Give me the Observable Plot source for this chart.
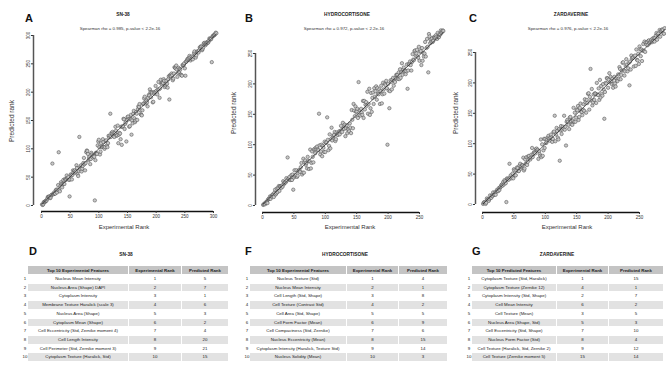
<!DOCTYPE html>
<html><head><meta charset="utf-8">
<script src="https://cdn.jsdelivr.net/npm/d3@7"></script>
<script src="https://cdn.jsdelivr.net/npm/@observablehq/plot@0.6"></script>
<style>
body{margin:0;background:#fff;font-family:"Liberation Sans",Arial,sans-serif;}
#root{position:relative;width:666px;height:366px;overflow:hidden;background:#fff;}
.abs{position:absolute;white-space:nowrap;line-height:1;}
.letter{font-size:11px;font-weight:bold;color:#111;}
.ttl{font-size:4.8px;font-weight:bold;color:#222;transform:translateX(-50%);}
.sub{font-size:4.4px;color:#333;transform:translateX(-50%);}
.xlab{font-size:6px;color:#333;transform:translateX(-50%);}
.ylab{font-size:6.5px;color:#333;transform:translate(-50%,-50%) rotate(-90deg);}
.cell{position:absolute;box-sizing:border-box;border-right:1px solid #fff;border-bottom:0.6px solid #fff;font-size:4.4px;color:#222;text-align:center;white-space:nowrap;overflow:hidden;}
.hcell{font-weight:bold;background:#c4c4c4;}
.rn{position:absolute;font-size:4.4px;color:#222;width:6px;text-align:center;}
svg{position:absolute;top:0;}
</style></head>
<body><div id="root"></div>
<script>
// Predicted ranks, listed in order of experimental rank (1, 2, 3, ...)
const predA = [
2,1,2,6,6,6,8,8,9,12, 15,15,16,15,13,14,18,19,74,20,
20,23,21,21,27,28,23,28,36,94, 27,25,34,41,38,32,38,45,38,38,
47,45,46,53,48,47,50,45,16,46, 55,53,46,54,62,58,61,62,58,60,
71,66,55,52,61,121,67,64,71,60, 65,70,75,84,73,62,75,94,97,96,
91,80,85,82,73,82,93,90,85,88, 87,86,9,80,93,92,91,106,113,116,
103,90,95,110,103,104,117,112,103,100, 103,114,115,106,103,110,123,120,123,162,
121,128,127,130,123,128,121,128,139,132, 123,124,141,110,125,128,127,117,139,107,
139,140,153,152,135,144,147,113,151,156, 157,152,139,140,153,160,125,150,145,162,
167,154,147,150,165,162,151,170,175,174, 179,168,161,160,159,168,179,180,189,192,
183,180,185,182,175,190,195,194,205,200, 191,200,199,182,183,200,197,200,211,202,
199,196,205,218,205,190,207,222,215,214, 217,216,223,220,209,212,215,220,215,208,
223,228,187,230,229,228,233,230,221,224, 233,244,243,242,247,240,227,234,243,236,
241,240,231,230,229,248,247,248,251,242, 229,254,254,257,259,258,260,264,261,256,
259,263,260,258,263,269,272,266,261,265, 271,272,271,270,274,279,278,281,280,274,
276,279,286,287,285,283,285,288,288,287, 288,291,295,294,293,294,253,298,299,300,
301,301,303,305,304];
const predB = [
1,2,3,2,5,4,7,4,10,11, 11,15,11,15,15,18,18,14,21,26,
18,20,28,22,29,32,24,32,31,29, 33,31,40,35,38,38,38,45,41,79,
44,44,47,42,42,50,42,51,26,46, 58,48,50,58,47,49,56,58,58,55,
63,70,51,54,77,54,71,74,67,70, 61,80,73,60,73,92,61,70,89,80,
71,92,93,86,95,92,97,92,91,151, 99,84,89,100,81,98,95,88,105,88,
103,104,145,108,91,98,117,94,109,128, 107,112,115,116,121,106,109,120,117,116,
119,122,117,122,131,124,121,136,127,126, 133,114,127,132,119,126,125,122,135,128,
119,157,141,127,167,156,147,163,154,155, 159,144,203,149,157,148,159,153,149,172,
144,172,158,166,170,164,187,151,167,192, 149,160,185,154,177,186,167,193,179,188,
196,174,193,184,183,191,167,188,197,168, 183,202,191,184,200,198,205,193,100,200,
189,160,188,206,203,191,207,210,197,205, 203,210,215,214,215,208,219,208,224,210,
219,234,215,224,227,221,222,216,221,232, 192,222,233,232,237,231,222,236,249,240,
239,254,255,246,250,256,245,243,261,238, 253,254,231,259,238,251,245,250,269,245,
259,274,261,219,282,278,267,273,269,275, 269,271,277,276,276,280,277,274,284,277,
277,282,281,288,284,286,288,287];
const predC = [
1,3,4,3,1,3,10,8,8,6, 9,15,11,11,15,14,20,16,16,20,
16,21,24,22,22,27,24,28,29,32, 33,31,37,33,40,38,35,4,43,42,
41,41,67,45,48,43,45,51,43,58, 56,48,48,56,61,60,55,55,64,67,
59,62,65,64,77,56,59,74,67,78, 65,70,79,80,75,74,77,82,93,78,
83,86,85,84,91,92,89,90,75,88, 83,80,107,78,99,80,89,108,93,108,
101,102,107,110,113,108,105,110,115,110, 103,108,119,120,146,104,115,126,121,110,
107,124,72,122,129,116,123,128,125,146, 123,128,97,136,139,136,131,124,143,144,
137,132,131,138,159,136,151,136,143,156, 155,162,139,144,159,166,153,152,147,156,
165,154,173,168,151,172,167,182,183,156, 177,223,171,190,163,168,181,172,183,182,
167,200,181,180,191,172,205,176,195,182, 179,198,189,141,185,200,199,208,207,192,
205,216,201,210,203,198,207,192,199,210, 199,194,207,204,203,214,207,226,223,206,
213,220,233,234,221,212,219,228,239,230, 219,224,233,196,235,222,245,240,241,242,
227,244,245,228,255,238,237,248,231,260, 255,244,255,236,253,264,253,268,251,266,
263,267,262,269,270,265,267,269,271,267, 273,269,274,268,274,278,282,271,280,281,
277,287,276,285,286,288,287,281,281,290];

const ticksA = [0,50,100,150,200,250,300];
const ticksBC = [0,50,100,150,200,250];

const panelTitles = ["SN-38","HYDROCORTISONE","ZARDAVERINE"];
const panelSubs = ["Spearman rho = 0.985, p-value < 2.2e-16","Spearman rho = 0.972, p-value < 2.2e-16","Spearman rho = 0.976, p-value < 2.2e-16"];
const panelLetters = ["A","B","C"];
const xLabel = "Experimental Rank";
const yLabel = "Predicted rank";

// Tables
const tableLetters = ["D","F","G"];
const tableTitles = ["SN-38","HYDROCORTISONE","ZARDAVERINE"];
const headD = ["Top 10 Experimental Features","Experimental Rank","Predicted Rank"];
const featD = ["Nucleus Mean Intensity","Nucleus Area (Shape) DAPI","Cytoplasm Intensity","Membrane Texture Haralick (scale 3)","Nucleus Area (Shape)","Cytoplasm Mean (Shape)","Cell Eccentricity (Std, Zernike moment 4)","Cell Length Intensity","Cell Perimeter (Std, Zernike moment 3)","Cytoplasm Texture (Haralick, Std)"];
const expD = [1,2,3,4,5,6,7,8,9,10];
const prdD = [5,7,1,6,3,2,4,20,21,15];
const headF = ["Top 10 Experimental Features","Experimental Rank","Predicted Rank"];
const featF = ["Nucleus Texture (Std)","Nucleus Mean Intensity","Cell Length (Std, Shape)","Cell Texture (Contrast Std)","Cell Area (Std, Shape)","Cell Form Factor (Mean)","Cell Compactness (Std, Zernike)","Nucleus Eccentricity (Mean)","Cytoplasm Intensity (Haralick, Texture Std)","Nucleus Solidity (Mean)"];
const expF = [1,2,3,4,5,6,7,8,9,10];
const prdF = [4,1,8,2,5,9,6,15,14,3];
const headG = ["Top 10 Predicted Features","Experimental Rank","Predicted Rank"];
const featG = ["Cytoplasm Texture (Std, Haralick)","Cytoplasm Texture (Zernike 12)","Cytoplasm Intensity (Std, Shape)","Cell Mean Intensity","Cell Texture (Mean)","Nucleus Area (Shape, Std)","Cell Eccentricity (Std, Shape)","Nucleus Form Factor (Std)","Cell Texture (Haralick, Std, Zernike 2)","Cell Texture (Zernike moment 5)"];
const expG = [1,4,2,6,3,5,7,8,9,15];
const prdG = [15,1,7,2,5,3,10,4,12,14];

const root = document.getElementById("root");
function addText(cls, txt, left, top){
  const d=document.createElement("div");
  d.className="abs "+cls; d.textContent=txt;
  d.style.left=left+"px"; d.style.top=top+"px";
  root.appendChild(d); return d;
}

const panels = [
  {pred:predA, ticks:ticksA, off:0,   axX:33, axY:211, x0:41, x1:213, y0:205, y1:35, lx:29, tc:123, xl:124, yc:121},
  {pred:predB, ticks:ticksBC, off:222, axX:33, axY:212, x0:40, x1:197, y0:205, y1:53, lx:27, tc:125, xl:128, yc:113},
  {pred:predC, ticks:ticksBC, off:444, axX:31, axY:212, x0:38, x1:195, y0:204, y1:52, lx:29, tc:127, xl:123, yc:113}
];

panels.forEach((p,k)=>{
  const data = p.pred.map((v,i)=>({exp:i+1, pred:v}));
  const maxT = p.ticks[p.ticks.length-1];
  const H = 232;
  const svg = Plot.plot({
    width:222, height:H,
    marginLeft:p.axX, marginRight:0, marginTop:0, marginBottom:H-p.axY,
    x:{domain:[0,maxT], range:[p.x0,p.x1]},
    y:{domain:[0,maxT], range:[p.y0,p.y1]},
    style:{overflow:"visible", background:"transparent", fontFamily:"Liberation Sans, Arial, sans-serif"},
    marks:[
      Plot.ruleY([0],{x1:0, x2:maxT, dy:p.axY-p.y0, stroke:"#111", strokeWidth:1.3}),
      Plot.ruleX([0],{y1:0, y2:maxT, dx:p.axX-p.x0, stroke:"#555", strokeWidth:1.5}),
      Plot.axisX({ticks:p.ticks, tickSize:2, tickPadding:1.5, fontSize:4.5, label:null, color:"#333"}),
      Plot.axisY({ticks:p.ticks, tickSize:2, tickPadding:1.5, fontSize:4.5, tickRotate:-90, label:null, color:"#333"}),
      Plot.dot(data,{x:"exp", y:"pred", r:1.7, fill:"#c8c8c8", stroke:"#444", strokeWidth:0.5}),
      Plot.linearRegressionY(data,{x:"exp", y:"pred", ci:0, stroke:"#222", strokeWidth:0.7})
    ]
  });
  svg.style.left = p.off+"px";
  root.appendChild(svg);
  addText("letter", panelLetters[k], p.off+p.lx-4, 12.6);
  addText("ttl", panelTitles[k], p.off+p.tc, 13);
  addText("sub", panelSubs[k], p.off+p.tc-3, 27);
  addText("xlab", xLabel, p.off+p.xl, 223.5);
  addText("ylab", yLabel, p.off+12, p.yc);
});

const tables = [
  {left:28,  widths:[101,53,47], head:headD, feat:featD, ex:expD, pr:prdD, lx:29,  tc:126},
  {left:250, widths:[97,52,49],  head:headF, feat:featF, ex:expF, pr:prdF, lx:245, tc:345},
  {left:472, widths:[85,52,55],  head:headG, feat:featG, ex:expG, pr:prdG, lx:472, tc:557}
];
tables.forEach((t,k)=>{
  addText("letter", tableLetters[k], t.lx, 245.6);
  addText("ttl", tableTitles[k], t.tc, 253);
  const rows = [t.head].concat(t.feat.map((f,i)=>[f, String(t.ex[i]), String(t.pr[i])]));
  rows.forEach((r,ri)=>{
    const top = ri===0 ? 266 : 275 + (ri-1)*8.7;
    const h = ri===0 ? 9 : 8.7;
    let x = t.left;
    r.forEach((txt,ci)=>{
      const d=document.createElement("div");
      d.className="cell"+(ri===0?" hcell":"");
      d.style.left=x+"px"; d.style.top=top+"px";
      d.style.width=t.widths[ci]+"px"; d.style.height=h+"px";
      d.style.lineHeight=h+"px";
      if(ri>0) d.style.background = (ri%2===0) ? "#e2e2e2" : "#ffffff";
      d.textContent=txt;
      root.appendChild(d);
      x += t.widths[ci];
    });
    if(ri>0){
      const n=document.createElement("div");
      n.className="rn"; n.textContent=String(ri);
      n.style.left=(t.left-6)+"px"; n.style.top=top+"px"; n.style.lineHeight=h+"px";
      root.appendChild(n);
    }
  });
});
</script>
</body></html>
